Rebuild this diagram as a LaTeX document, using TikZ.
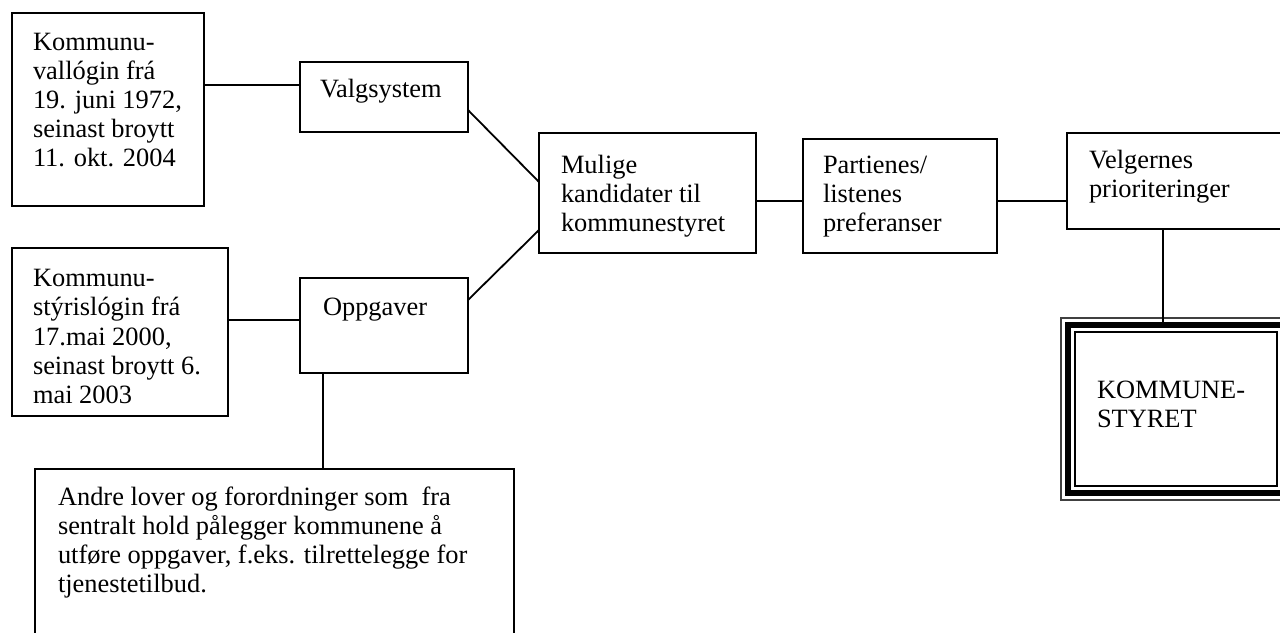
\documentclass[tikz,border=0pt]{standalone}
\usepackage{fontspec}
\setmainfont{Liberation Serif}
\usetikzlibrary{fit}
\tikzset{
  box/.style={draw, line width=0.9pt, anchor=north west, inner ysep=0pt, outer sep=0pt,
              font=\fontsize{13.2}{14.6}\selectfont},
  link/.style={line width=0.9pt}
}
\begin{document}
\begin{tikzpicture}[x=0.5pt,y=-0.5pt]
\useasboundingbox (0,0) rectangle (1280,632);
\clip (0,0) rectangle (1280,632);
\fill[white] (0,0) rectangle (1280,632);

% boxes
\node[box, inner xsep=10.5pt] (lov1) at (12,13)
  {\parbox[c][96.5pt][t]{75pt}{\raggedright\rule{0pt}{18.5pt}Kommunu-\\vallógin frá\\19. juni 1972,\\seinast broytt\\11. okt. 2004}};
\node[box, inner xsep=10pt] (valg) at (300,62)
  {\parbox[c][35pt][t]{64pt}{\raggedright\rule{0pt}{17.5pt}Valgsystem}};
\node[box, inner xsep=10.5pt] (lov2) at (12,248)
  {\parbox[c][84pt][t]{87pt}{\raggedright\rule{0pt}{19.3pt}Kommunu-\\stýrislógin frá\\17.mai 2000,\\seinast broytt 6.\\mai 2003}};
\node[box, inner xsep=11.5pt] (oppg) at (300,278)
  {\parbox[c][47.5pt][t]{61pt}{\raggedright\rule{0pt}{18.5pt}Oppgaver}};
\node[box, inner xsep=11pt] (mulige) at (539,133)
  {\parbox[c][60pt][t]{86.5pt}{\raggedright\rule{0pt}{20pt}Mulige\\kandidater til\\kommunestyret}};
\node[box, inner xsep=10pt] (parti) at (803,139)
  {\parbox[c][57pt][t]{77pt}{\raggedright\rule{0pt}{17pt}Partienes/\\listenes\\preferanser}};
\node[box, inner xsep=11pt] (velg) at (1067,133)
  {\parbox[c][48pt][t]{93pt}{\raggedright\rule{0pt}{17.5pt}Velgernes\\prioriteringer}};
\node[box, inner xsep=11.5pt] (andre) at (35,469)
  {\parbox[c][100pt][t]{216.5pt}{\raggedright\rule{0pt}{18pt}Andre lover og forordninger som\ \ fra\\sentralt hold pålegger kommunene å\\utføre oppgaver, f.eks. tilrettelegge for\\tjenestetilbud.}};
\node[box, inner xsep=11pt] (styret) at (1075,332)
  {\parbox[c][77pt][t]{79pt}{\raggedright\rule{0pt}{33pt}KOMMUNE-\\STYRET}};
\node[fit=(styret), inner sep=3.5pt, draw, line width=2.6pt] (styretmid) {};
\node[fit=(styret), inner sep=7pt, draw=black!75, line width=0.6pt] (styretout) {};

% helper coordinates
\coordinate (h1) at (0,85);
\coordinate (d1) at (0,110);
\coordinate (d2) at (0,182);
\coordinate (d3) at (0,300);
\coordinate (d4) at (0,230);
\coordinate (h2) at (0,320);
\coordinate (v1) at (323,0);
\coordinate (h3) at (0,201);
\coordinate (v2) at (1163,0);

% connectors
\draw[link] (lov1.east |- h1) -- (valg.west |- h1);
\draw[link] (valg.east |- d1) -- (mulige.west |- d2);
\draw[link] (oppg.east |- d3) -- (mulige.west |- d4);
\draw[link] (lov2.east |- h2) -- (oppg.west |- h2);
\draw[link] (oppg.south -| v1) -- (andre.north -| v1);
\draw[link] (mulige.east |- h3) -- (parti.west |- h3);
\draw[link] (parti.east |- h3) -- (velg.west |- h3);
\draw[link] (velg.south -| v2) -- (styretmid.north -| v2);
\end{tikzpicture}
\end{document}
